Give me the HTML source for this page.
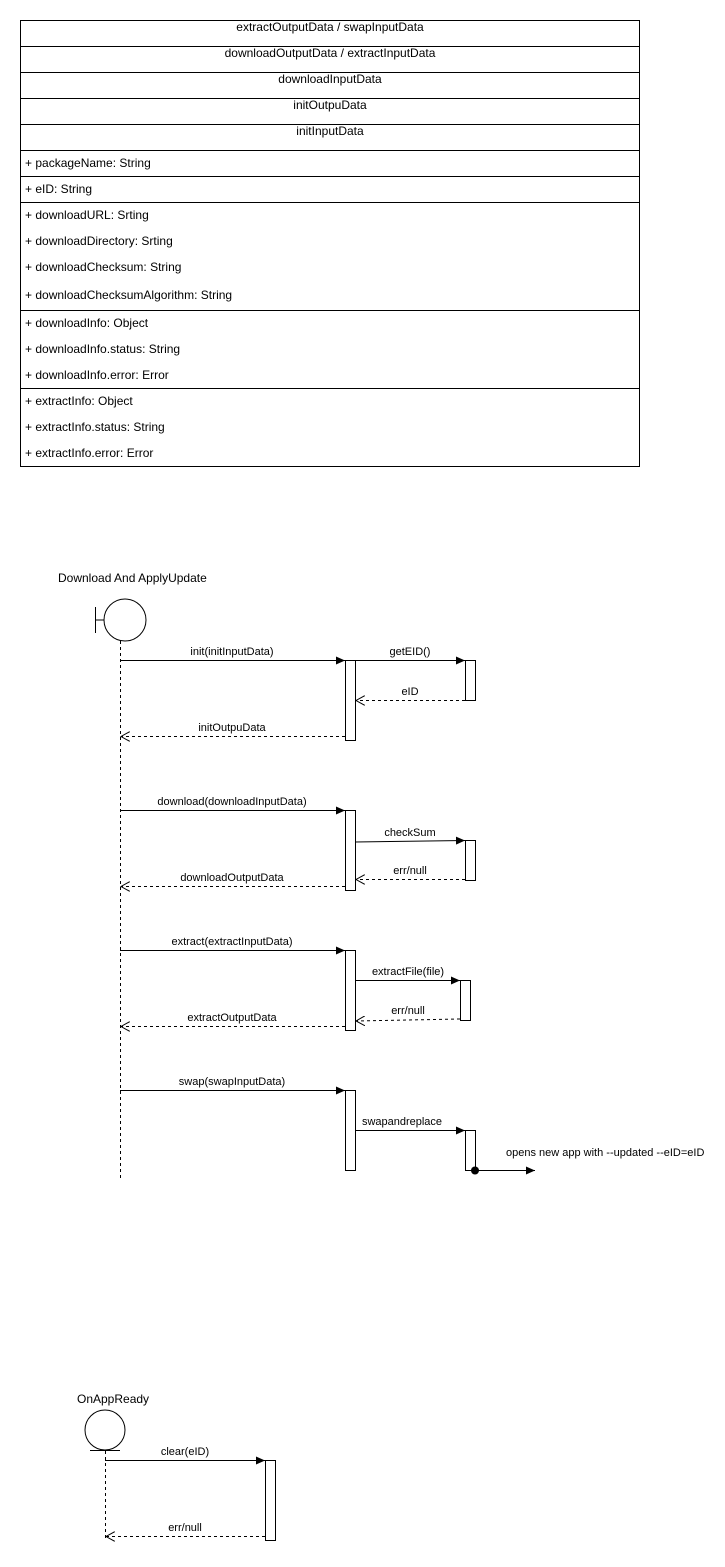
<!DOCTYPE html>
<html><head><style>body{margin:0;background:#fff}svg{display:block}text{font-family:"Liberation Sans",Arial,sans-serif;font-size:12px;fill:#000}</style></head><body>
<svg width="725" height="1567" xmlns="http://www.w3.org/2000/svg">
<defs>
<marker id="f" markerWidth="10" markerHeight="8" refX="9" refY="4" orient="auto" markerUnits="userSpaceOnUse"><path d="M0,0 L9,4 L0,8 z" fill="#000"/></marker>
<marker id="o" markerWidth="10" markerHeight="10" refX="9" refY="5" orient="auto" markerUnits="userSpaceOnUse"><path d="M0,0 L9,5 L0,10" fill="none" stroke="#000"/></marker>
</defs>
<g stroke="#000" fill="none">
<rect x="20.5" y="20.5" width="619" height="446"/>
<path d="M20 46.5H640M20 72.5H640M20 98.5H640M20 124.5H640M20 150.5H640M20 176.5H640M20 202.5H640M20 310.5H640M20 388.5H640"/>
</g>
<g text-anchor="middle">
<text x="330" y="31">extractOutputData / swapInputData</text>
<text x="330" y="57">downloadOutputData / extractInputData</text>
<text x="330" y="83">downloadInputData</text>
<text x="330" y="109">initOutpuData</text>
<text x="330" y="135">initInputData</text>
</g>
<g>
<text x="25" y="167">+ packageName: String</text>
<text x="25" y="193">+ eID: String</text>
<text x="25" y="219">+ downloadURL: Srting</text>
<text x="25" y="245">+ downloadDirectory: Srting</text>
<text x="25" y="271">+ downloadChecksum: String</text>
<text x="25" y="299">+ downloadChecksumAlgorithm: String</text>
<text x="25" y="327">+ downloadInfo: Object</text>
<text x="25" y="353">+ downloadInfo.status: String</text>
<text x="25" y="379">+ downloadInfo.error: Error</text>
<text x="25" y="405">+ extractInfo: Object</text>
<text x="25" y="431">+ extractInfo.status: String</text>
<text x="25" y="457">+ extractInfo.error: Error</text>
<text x="58" y="582">Download And ApplyUpdate</text>
<text x="506" y="1156" style="font-size:11px">opens new app with --updated --eID=eID</text>
<text x="77" y="1403">OnAppReady</text>
</g>
<g stroke="#000" fill="#fff">
<circle cx="125" cy="620" r="21"/>
<path d="M95.5 607V633M95 620H104" fill="none"/>
<path d="M120.5 641V1178" stroke-dasharray="3,3" fill="none"/>
<rect x="345.5" y="660.5" width="10" height="80"/>
<rect x="465.5" y="660.5" width="10" height="40"/>
<rect x="345.5" y="810.5" width="10" height="80"/>
<rect x="465.5" y="840.5" width="10" height="40"/>
<rect x="345.5" y="950.5" width="10" height="80"/>
<rect x="460.5" y="980.5" width="10" height="40"/>
<rect x="345.5" y="1090.5" width="10" height="80"/>
<rect x="465.5" y="1130.5" width="10" height="40"/>
<circle cx="105" cy="1430" r="20"/>
<path d="M90 1450.5H120" fill="none"/>
<path d="M105.5 1451V1540" stroke-dasharray="3,3" fill="none"/>
<rect x="265.5" y="1460.5" width="10" height="80"/>
</g>
<g stroke="#000" fill="none">
<path d="M120 660.5H345" marker-end="url(#f)"/>
<path d="M355 660.5H465" marker-end="url(#f)"/>
<path d="M465 700.5H356" stroke-dasharray="3,3" marker-end="url(#o)"/>
<path d="M345 736.5H121" stroke-dasharray="3,3" marker-end="url(#o)"/>
<path d="M120 810.5H345" marker-end="url(#f)"/>
<path d="M355 842L465 840.5" marker-end="url(#f)"/>
<path d="M465 879.5H356" stroke-dasharray="3,3" marker-end="url(#o)"/>
<path d="M345 886.5H121" stroke-dasharray="3,3" marker-end="url(#o)"/>
<path d="M120 950.5H345" marker-end="url(#f)"/>
<path d="M355 980.5H460" marker-end="url(#f)"/>
<path d="M460 1019L356 1021" stroke-dasharray="3,3" marker-end="url(#o)"/>
<path d="M345 1026.5H121" stroke-dasharray="3,3" marker-end="url(#o)"/>
<path d="M120 1090.5H345" marker-end="url(#f)"/>
<path d="M355 1130.5H465" marker-end="url(#f)"/>
<path d="M475 1170.5H535" marker-end="url(#f)"/>
<path d="M105 1460.5H265" marker-end="url(#f)"/>
<path d="M265 1536.5H106" stroke-dasharray="3,3" marker-end="url(#o)"/>
</g>
<circle cx="475" cy="1170.5" r="4" fill="#000"/>
<g text-anchor="middle">
<text x="232" y="655" style="font-size:11px">init(initInputData)</text>
<text x="410" y="655" style="font-size:11px">getEID()</text>
<text x="410" y="695" style="font-size:11px">eID</text>
<text x="232" y="731" style="font-size:11px">initOutpuData</text>
<text x="232" y="805" style="font-size:11px">download(downloadInputData)</text>
<text x="410" y="836" style="font-size:11px">checkSum</text>
<text x="410" y="874" style="font-size:11px">err/null</text>
<text x="232" y="881" style="font-size:11px">downloadOutputData</text>
<text x="232" y="945" style="font-size:11px">extract(extractInputData)</text>
<text x="408" y="975" style="font-size:11px">extractFile(file)</text>
<text x="408" y="1014" style="font-size:11px">err/null</text>
<text x="232" y="1021" style="font-size:11px">extractOutputData</text>
<text x="232" y="1085" style="font-size:11px">swap(swapInputData)</text>
<text x="402" y="1125" style="font-size:11px">swapandreplace</text>
<text x="185" y="1455" style="font-size:11px">clear(eID)</text>
<text x="185" y="1531" style="font-size:11px">err/null</text>
</g>
</svg>
</body></html>
